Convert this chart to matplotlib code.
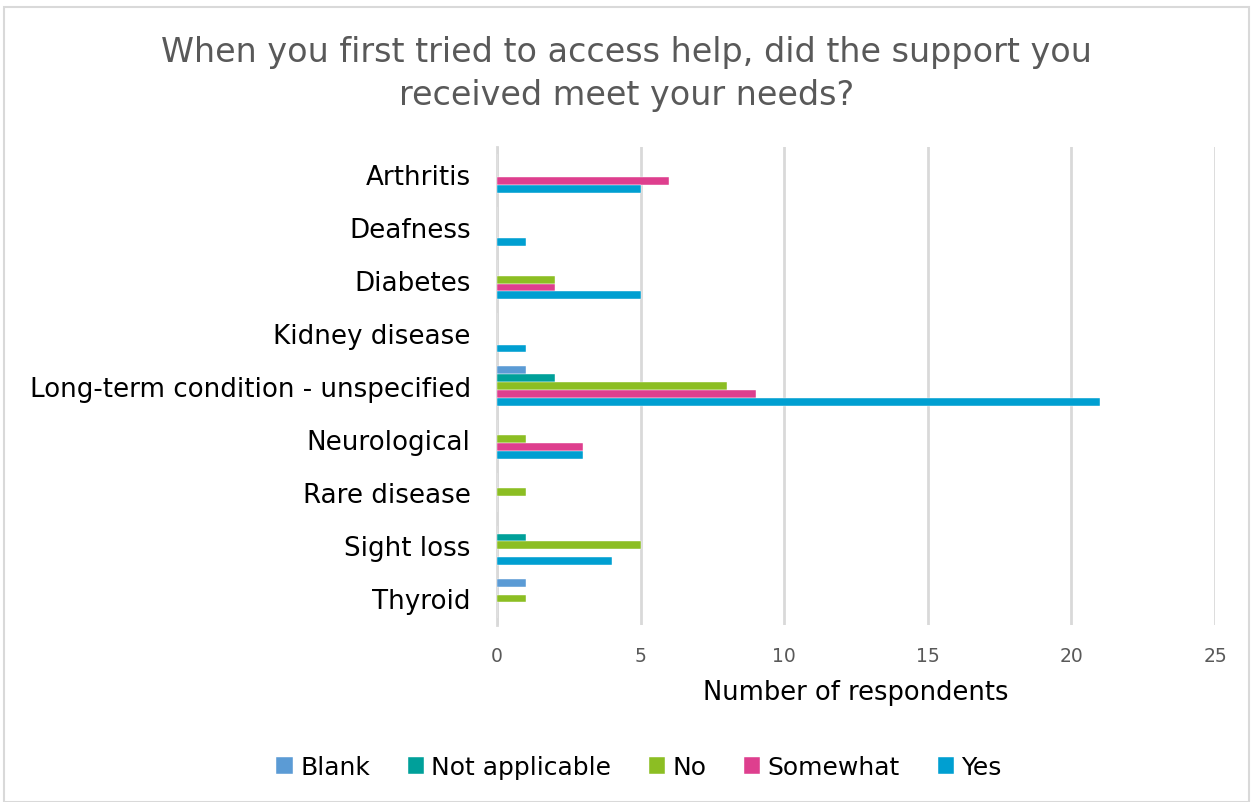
import matplotlib.pyplot as plt
import numpy as np
from matplotlib.patches import Rectangle

categories = ["Arthritis", "Deafness", "Diabetes", "Kidney disease",
              "Long-term condition - unspecified", "Neurological",
              "Rare disease", "Sight loss", "Thyroid"]
series = ["Blank", "Not applicable", "No", "Somewhat", "Yes"]
blank = [0, 0, 0, 0, 1, 0, 0, 0, 1]
not_applicable = [0, 0, 0, 0, 2, 0, 0, 1, 0]
no = [0, 0, 2, 0, 8, 1, 1, 5, 1]
somewhat = [6, 0, 2, 0, 9, 3, 0, 0, 0]
yes = [5, 1, 5, 1, 21, 3, 0, 4, 0]
colors = ["#5B9BD5", "#00A09A", "#8CBE23", "#DE3F8E", "#009FD1"]

values = [blank, not_applicable, no, somewhat, yes]

fig = plt.figure(figsize=(12.53, 8.03), dpi=100)
ax = fig.add_axes([0.3967, 0.2204, 0.5730, 0.5953])

# chart border
fig.patches.append(Rectangle((0.003, 0.0), 0.994, 0.99, transform=fig.transFigure,
                             fill=False, edgecolor="#D9D9D9", linewidth=1.5))

y = np.arange(len(categories))
h = 0.147
for i, (name, vals) in enumerate(zip(series, values)):
    offset = (i - 2) * h
    ax.barh(y + offset, vals, height=h, color=colors[i], label=name,
            edgecolor="white", linewidth=0.3, zorder=3)

ax.set_ylim(len(categories) - 0.5, -0.5)
ax.set_xlim(0, 25)
ax.set_xticks(range(0, 26, 5))
ax.set_yticks(y)
ax.set_yticklabels(categories, fontsize=18.8)
ax.tick_params(axis="y", length=0, pad=19)
ax.tick_params(axis="x", length=0, labelsize=13.5, labelcolor="#595959", pad=15)
ax.grid(axis="x", color="#D9D9D9", linewidth=2, zorder=0)
for s in ["top", "right", "bottom"]:
    ax.spines[s].set_visible(False)
ax.spines["left"].set_color("#D9D9D9")
ax.spines["left"].set_linewidth(2)

ax.set_xlabel("Number of respondents", fontsize=18.5, labelpad=10)

fig.text(0.5, 0.908, "When you first tried to access help, did the support you\nreceived meet your needs?",
         ha="center", va="center", fontsize=24, color="#595959", linespacing=1.4)

fig.legend(loc="center", bbox_to_anchor=(0.51, 0.043), ncol=5, frameon=False,
           fontsize=18, handlelength=0.65, handleheight=0.65, handletextpad=0.3,
           columnspacing=1.5)

fig.savefig("out.png", dpi=100)
